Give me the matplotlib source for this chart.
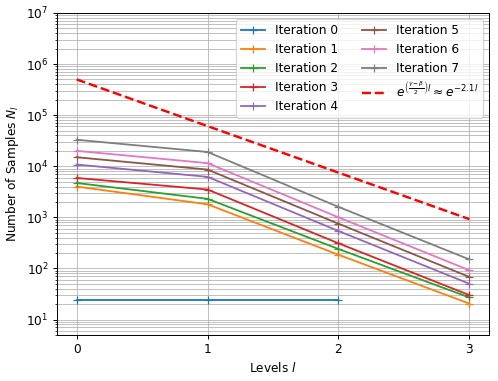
import matplotlib
matplotlib.use("Agg")
import matplotlib.pyplot as plt

levels = [0, 1, 2, 3]
levels_it0 = [0, 1, 2]

it0 = [24.5, 24.5, 24.5]
it1 = [4000, 1800, 185, 20.5]
it2 = [4700, 2300, 240, 27]
it3 = [5900, 3500, 310, 30]
it4 = [10800, 6200, 540, 50]
it5 = [15000, 8600, 750, 68]
it6 = [20000, 11500, 1000, 92]
it7 = [33000, 19000, 1600, 150]
ref_rate = [500000, 61000, 7500, 920]

series = [it1, it2, it3, it4, it5, it6, it7]

dpi = 87
fig = plt.figure(figsize=(498 / dpi, 381 / dpi), dpi=dpi)
ax = fig.add_axes([0.1145, 0.121, 0.982 - 0.1145, 0.966 - 0.121])

ax.plot(levels_it0, it0, marker='+', label='Iteration 0')
for i, s in enumerate(series):
    ax.plot(levels, s, marker='+', label='Iteration %d' % (i + 1))
ax.plot(levels, ref_rate, 'r--', linewidth=2,
        label=r'$e^{\left(\frac{\gamma-\beta}{2}\right)l} \approx e^{-2.1l}$')

ax.set_yscale('log')
ax.set_ylim(5, 1e7)
ax.set_xticks(levels)
ax.grid(True, which='both', color='#b0b0b0', alpha=0.8)
ax.set_xlabel(r'Levels $l$')
ax.set_ylabel(r'Number of Samples $N_l$')
ax.legend(ncol=2, loc='upper right')

fig.savefig('out.png', dpi=dpi)
